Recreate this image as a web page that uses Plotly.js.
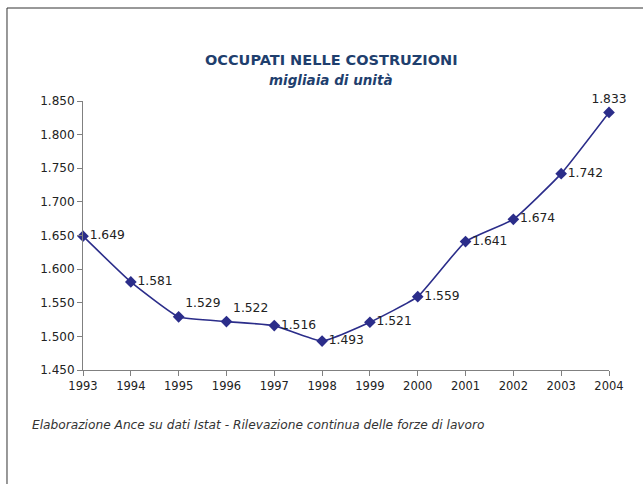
<!DOCTYPE html>
<html>
<head>
<meta charset="utf-8">
<script src="https://cdn.plot.ly/plotly-3.0.1.min.js"></script>
<style>
html,body{margin:0;padding:0;background:#fff;}
#chart{width:643px;height:484px;}
</style>
</head>
<body>
<div id="chart"></div>
<script>
var years = [1993, 1994, 1995, 1996, 1997, 1998, 1999, 2000, 2001, 2002, 2003, 2004];
var occupati = [1649, 1581, 1529, 1522, 1516, 1493, 1521, 1559, 1641, 1674, 1742, 1833];
var labelPos = ['middle right','middle right','top right','top right','middle right','middle right',
                'middle right','middle right','middle right','middle right','middle right','top center'];
var yTicks = [1450, 1500, 1550, 1600, 1650, 1700, 1750, 1800, 1850];
var titleText = 'OCCUPATI NELLE COSTRUZIONI';
var subtitleText = 'migliaia di unità';
var sourceText = 'Elaborazione Ance su dati Istat - Rilevazione continua delle forze di lavoro';

var trace = {
  x: years,
  y: occupati,
  type: 'scatter',
  mode: 'lines+markers+text',
  line: {color: '#2B2D8A', width: 1.6, shape: 'spline', smoothing: 0.4},
  marker: {symbol: 'diamond', size: 9, color: '#2B2D8A'},
  texttemplate: '%{y:,d}',
  textposition: labelPos,
  textfont: {family: 'DejaVu Sans', size: 12.3, color: '#222'},
  cliponaxis: false,
  hoverinfo: 'skip'
};

var layout = {
  width: 643, height: 484,
  margin: {l: 83, r: 34, t: 101, b: 114},
  paper_bgcolor: '#fff', plot_bgcolor: '#fff',
  separators: ',.',
  showlegend: false,
  font: {family: 'DejaVu Sans', size: 12, color: '#222'},
  xaxis: {
    range: [1993, 2004], tickvals: years, tickformat: 'd',
    showgrid: false, zeroline: false,
    showline: true, linecolor: '#808080', linewidth: 1,
    ticks: 'outside', ticklen: 5, tickcolor: '#808080',
    tickfont: {family: 'DejaVu Sans', size: 11.5, color: '#222'}
  },
  yaxis: {
    range: [1450, 1850], tickvals: yTicks, tickformat: ',d',
    showgrid: false, zeroline: false,
    showline: true, linecolor: '#808080', linewidth: 1,
    ticks: 'outside', ticklen: 5, tickcolor: '#808080',
    tickfont: {family: 'DejaVu Sans', size: 12, color: '#222'}
  },
  annotations: [
    {text: '<b>' + titleText + '</b>', xref: 'paper', yref: 'paper', x: 0.4715, y: 1.152,
     xanchor: 'center', yanchor: 'middle', showarrow: false,
     font: {family: 'DejaVu Sans', size: 14.5, color: '#1F3F6E'}},
    {text: '<b><i>' + subtitleText + '</i></b>', xref: 'paper', yref: 'paper', x: 0.4715, y: 1.078,
     xanchor: 'center', yanchor: 'middle', showarrow: false,
     font: {family: 'DejaVu Sans', size: 13.5, color: '#1F3F6E'}},
    {text: '<i>' + sourceText + '</i>', xref: 'paper', yref: 'paper', x: -0.1008, y: -0.2045,
     xanchor: 'left', yanchor: 'middle', showarrow: false,
     font: {family: 'DejaVu Sans', size: 12.2, color: '#333'}}
  ],
  shapes: [
    {type: 'rect', xref: 'paper', yref: 'paper', x0: -0.1445, x1: 1.08, y0: -0.45, y1: 1.3457,
     line: {color: '#333', width: 1}, fillcolor: 'rgba(0,0,0,0)', layer: 'below'}
  ]
};

Plotly.newPlot('chart', [trace], layout, {displayModeBar: false, staticPlot: true});
</script>
</body>
</html>
